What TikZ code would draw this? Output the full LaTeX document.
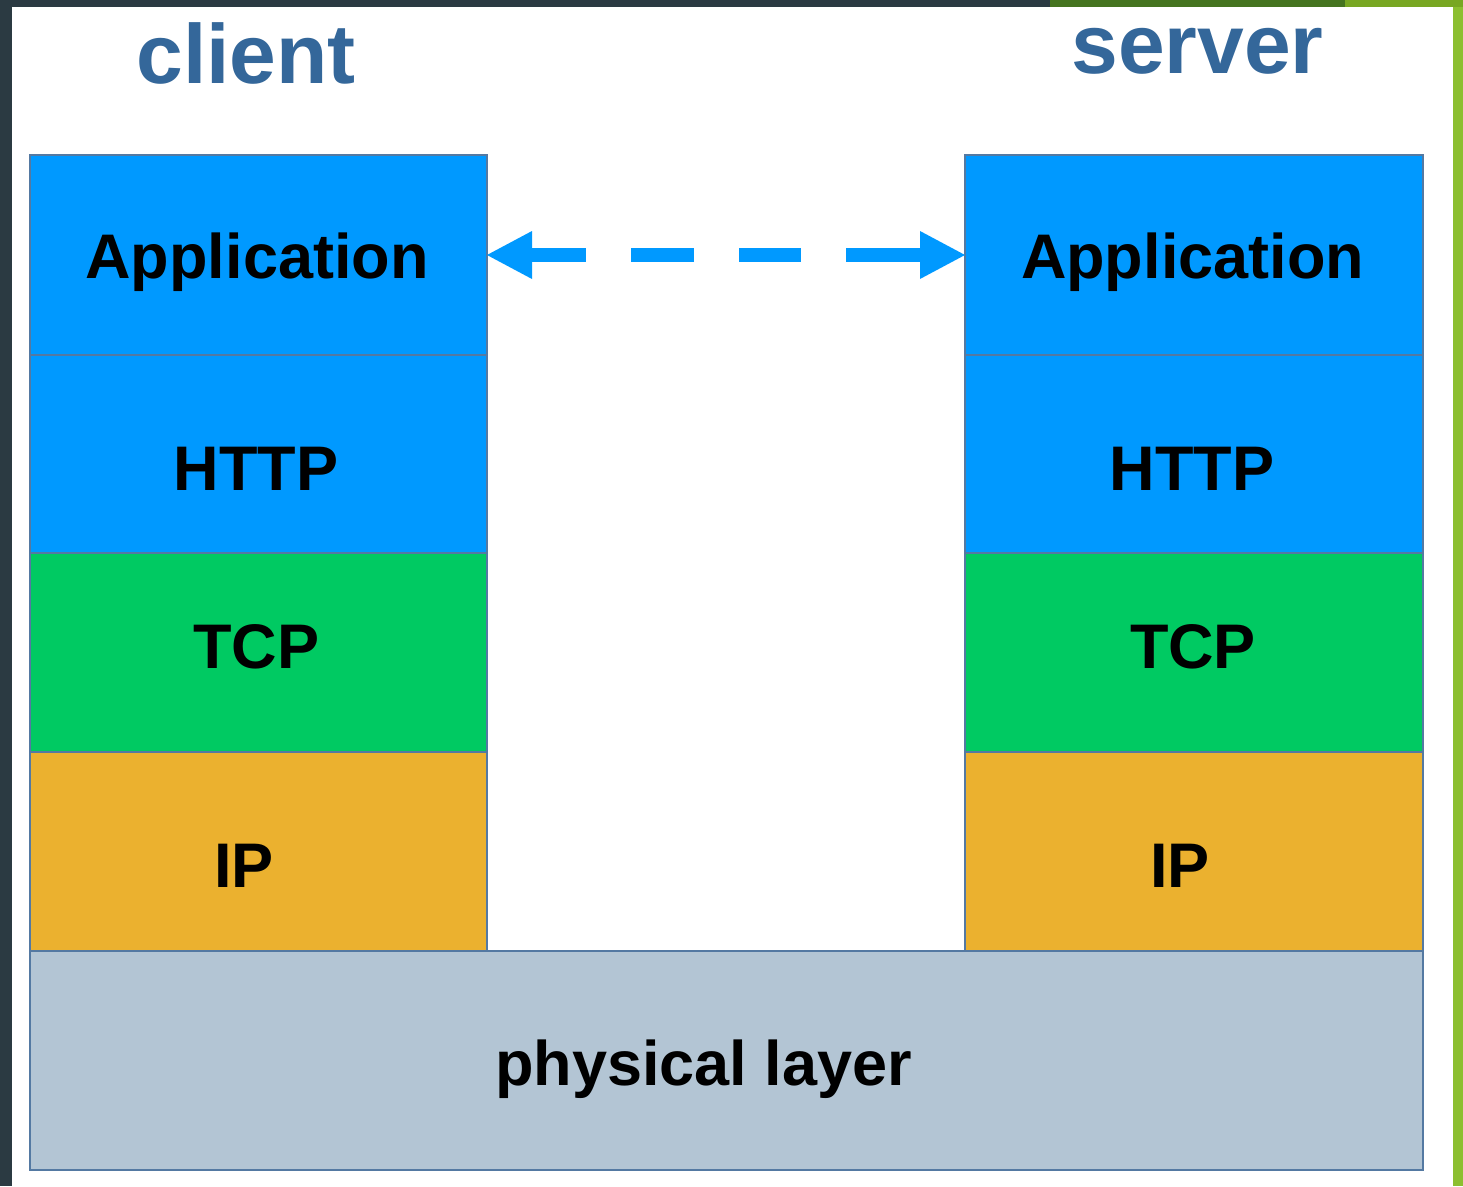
\documentclass[tikz,border=0pt]{standalone}
\usepackage{fontspec}
\setmainfont{Liberation Sans}
\definecolor{darkbg}{HTML}{2B3A42}
\definecolor{dgreen}{HTML}{45741F}
\definecolor{lgreen}{HTML}{78A722}
\definecolor{sgreen}{HTML}{8CBF30}
\definecolor{appblue}{HTML}{0099FF}
\definecolor{tcpgreen}{HTML}{00CA62}
\definecolor{ipgold}{HTML}{EBB12F}
\definecolor{phys}{HTML}{B3C5D4}
\definecolor{edge}{HTML}{5479A2}
\definecolor{titleblue}{HTML}{34679A}
\begin{document}
\begin{tikzpicture}[x=1pt,y=-1pt,
  layer/.style={draw=edge, line width=2pt, inner sep=0pt, outer sep=0pt, anchor=north west},
  lbl/.style={inner sep=0pt, anchor=base, font=\bfseries\fontsize{63}{70}\selectfont, text=black},
  title/.style={inner sep=0pt, anchor=base, font=\bfseries\fontsize{84}{90}\selectfont, text=titleblue},
  shaft/.style={draw=appblue, line width=14pt, dash pattern=on 79pt off 45pt on 63pt off 45pt on 62pt off 45pt on 96pt, shorten <=20pt, shorten >=20pt},
  head/.style={fill=appblue, draw=none}]
\useasboundingbox (0,0) rectangle (1463,1186);
% background frame
\fill[darkbg] (0,0) rectangle (1463,1186);
\fill[white] (12,7) rectangle (1453,1186);
\fill[dgreen] (1050,0) rectangle (1345,7);
\fill[lgreen] (1345,0) rectangle (1463,7);
\fill[sgreen] (1453,7) rectangle (1463,1186);
% titles
\node[title] (tclient) at (246,83) {client};
\node[title] (tserver) at (1197.5,73) {server};
% client stack
\node[layer, fill=appblue, minimum width=457pt, minimum height=200pt] (appC) at (30,155) {};
\node[layer, fill=appblue, minimum width=457pt, minimum height=198pt] (httpC) at (30,355) {};
\node[layer, fill=tcpgreen, minimum width=457pt, minimum height=199pt] (tcpC) at (30,553) {};
\node[layer, fill=ipgold, minimum width=457pt, minimum height=199pt] (ipC) at (30,752) {};
% server stack
\node[layer, fill=appblue, minimum width=458pt, minimum height=200pt] (appS) at (965,155) {};
\node[layer, fill=appblue, minimum width=458pt, minimum height=198pt] (httpS) at (965,355) {};
\node[layer, fill=tcpgreen, minimum width=458pt, minimum height=199pt] (tcpS) at (965,553) {};
\node[layer, fill=ipgold, minimum width=458pt, minimum height=199pt] (ipS) at (965,752) {};
% physical layer
\node[layer, fill=phys, minimum width=1393pt, minimum height=219pt] (phy) at (30,951) {};
% labels
\node[lbl] (lappC) at (257,278) {Application};
\node[lbl] (lhttpC) at (256,490) {HTTP};
\node[lbl] (ltcpC) at (256.5,668) {TCP};
\node[lbl] (lipC) at (244,887) {IP};
\node[lbl] (lappS) at (1192.5,278) {Application};
\node[lbl] (lhttpS) at (1192,490) {HTTP};
\node[lbl] (ltcpS) at (1193,668) {TCP};
\node[lbl] (lipS) at (1180,887) {IP};
\node[lbl] (lphy) at (703.5,1085) {physical layer};
% dashed double arrow
\draw[shaft] (appC.east) -- (appS.west);
\fill[head] (appC.east) -- ++(45,-24) -- ++(0,48) -- cycle;
\fill[head] (appS.west) -- ++(-45,-24) -- ++(0,48) -- cycle;
\end{tikzpicture}
\end{document}
